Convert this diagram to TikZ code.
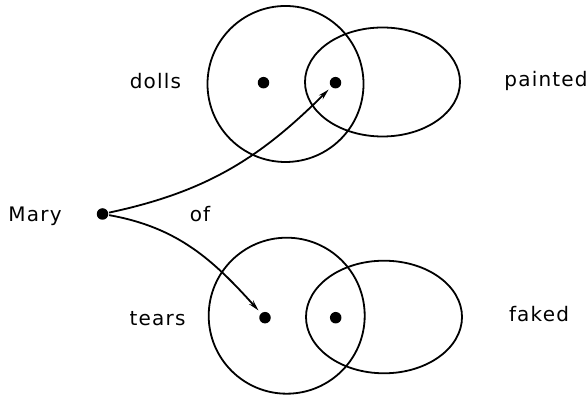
\documentclass[tikz,border=0pt]{standalone}
\usepackage{fontspec}
\setmainfont{DejaVu Sans}[LetterSpace=6]
\usetikzlibrary{arrows.meta}

\begin{document}
\begin{tikzpicture}[x=1pt,y=1pt,line width=1.8pt,
  dot/.style={circle, fill, inner sep=0pt, minimum size=11.5pt},
  word/.style={anchor=base, inner sep=0pt, font=\fontsize{20}{24}\selectfont},
  link/.style={-{Stealth[length=11pt,width=5.5pt]}, shorten >=3pt}]
\useasboundingbox (0,0) rectangle (588,395);
% upper pair
\draw (285.5,311) circle (78);
\draw (382.5,313) ellipse (77.5 and 54.5);
\node[dot] (dolls) at (263.5,312.3) {};
\node[dot] (painted) at (335.5,312.3) {};
% lower pair
\draw (286.7,79.3) circle (78);
\draw (384,78) ellipse (78 and 56.3);
\node[dot] (tears) at (265,77.3) {};
\node[dot] (faked) at (335.7,77.3) {};
% Mary
\node[dot] (mary) at (102.5,181) {};
% labels
\node[word] (lmary) at (35,173) {Mary};
\node[word] (lof) at (200,173.3) {of};
\node[word] (ldolls) at (155.5,306) {dolls};
\node[word] (lpainted) at (546,308.8) {painted};
\node[word] (ltears) at (157.5,69) {tears};
\node[word] (lfaked) at (539,73) {faked};
% arrows
\draw[link] (mary) to[out=12, in=225] (painted);
\draw[link] (mary) to[out=-10, in=132] (tears);
\end{tikzpicture}
\end{document}
